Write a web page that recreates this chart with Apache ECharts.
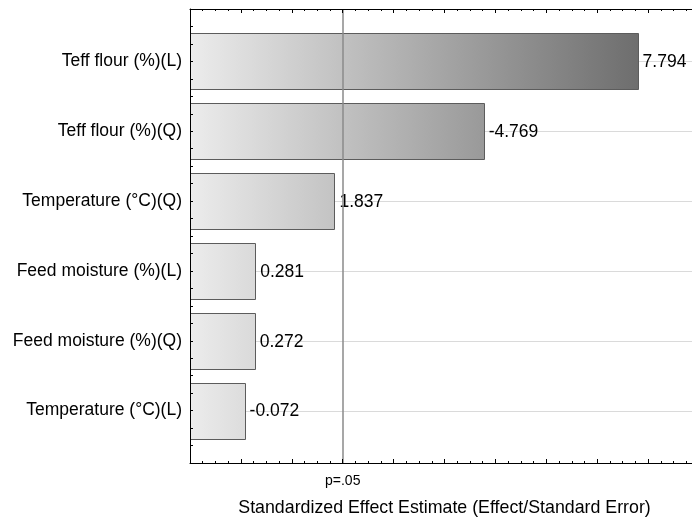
<!DOCTYPE html>
<html>
<head>
<meta charset="utf-8">
<script src="https://cdn.jsdelivr.net/npm/echarts@6/dist/echarts.min.js"></script>
<style>
  html, body { margin: 0; padding: 0; background: #fff; }
  #chart { width: 692px; height: 520px; }
</style>
</head>
<body>
<div id="chart"></div>
<script>
// Pareto chart of standardized effects
const categories = [
  'Teff flour (%)(L)',
  'Teff flour (%)(Q)',
  'Temperature (°C)(Q)',
  'Feed moisture (%)(L)',
  'Feed moisture (%)(Q)',
  'Temperature (°C)(L)'
];
const effects = [7.794, -4.769, 1.837, 0.281, 0.272, -0.072];
const pLimit = 2.0;
const pLabel = 'p=.05';
const axisTitle = 'Standardized Effect Estimate (Effect/Standard Error)';

const X_MIN = -1, X_MAX = 9;
const Y_MIN = -0.75, Y_MAX = 5.75;
const FONT = '"Liberation Sans", Arial, sans-serif';
const maxAbs = Math.max(...effects.map(Math.abs));

const chart = echarts.init(document.getElementById('chart'), null, { renderer: 'canvas' });

function renderBar(params, api) {
  const i = api.value(0);
  const v = api.value(1);
  const base = api.coord([X_MIN, i]);
  const tip = api.coord([Math.abs(v), i]);
  const h = api.size([0, 0.8])[1];
  const cs = params.coordSys;
  // one shared horizontal shading across the whole plot
  const g0 = api.coord([X_MIN, 0])[0];
  const g1 = api.coord([maxAbs, 0])[0];
  const fill = new echarts.graphic.LinearGradient(g0, 0, g1, 0, [
    { offset: 0, color: '#ececec' },
    { offset: 1, color: '#6e6e6e' }
  ], true);
  const yc = Math.round(base[1]) + 0.5;
  return {
    type: 'group',
    children: [
      {
        type: 'line',
        shape: { x1: cs.x, y1: yc, x2: cs.x + cs.width, y2: yc },
        style: { stroke: '#dadada', lineWidth: 1 },
        z2: 0
      },
      {
        type: 'rect',
        shape: {
          x: Math.round(base[0]) + 0.5,
          y: Math.round(base[1] - h / 2) + 0.5,
          width: Math.round(tip[0] - base[0]),
          height: Math.round(h)
        },
        style: { fill: fill, stroke: '#5c5c5c', lineWidth: 1 },
        z2: 1
      },
      {
        type: 'text',
        x: tip[0] + 5,
        y: base[1] + 1,
        style: {
          text: v.toFixed(3),
          fill: '#000',
          font: '17.5px ' + FONT,
          verticalAlign: 'middle',
          align: 'left'
        },
        z2: 2
      }
    ]
  };
}

const xAxisCommon = {
  type: 'value',
  min: X_MIN,
  max: X_MAX,
  interval: 1,
  z: 10,
  axisLine: { show: true, onZero: false, lineStyle: { color: '#000', width: 1 } },
  axisTick: { show: true, inside: true, length: 4, lineStyle: { color: '#000' } },
  minorTick: { show: true, splitNumber: 4, length: 2, lineStyle: { color: '#000' } },
  axisLabel: { show: false },
  splitLine: { show: false }
};

chart.setOption({
  animation: false,
  backgroundColor: '#fff',
  grid: {
    left: 190, right: -7, top: 9, bottom: 57,
    containLabel: false,
    outerBoundsMode: 'none'
  },
  xAxis: [
    Object.assign({}, xAxisCommon, {
      position: 'bottom',
      name: axisTitle,
      nameLocation: 'middle',
      nameGap: 36,
      nameTextStyle: { color: '#000', fontSize: 17.8, fontFamily: FONT }
    }),
    Object.assign({}, xAxisCommon, { position: 'top' })
  ],
  yAxis: {
    type: 'value',
    inverse: true,
    min: Y_MIN,
    max: Y_MAX,
    interval: 0.25,
    z: 10,
    axisLine: { show: true, onZero: false, lineStyle: { color: '#000', width: 1 } },
    axisTick: { show: true, inside: true, length: 3, lineStyle: { color: '#000' } },
    axisLabel: {
      show: true,
      formatter: (v) => (Math.abs(v - Math.round(v)) < 1e-6 ? (categories[Math.round(v)] || '') : ''),
      color: '#000',
      fontSize: 17.5,
      fontFamily: FONT,
      margin: 8
    },
    splitLine: { show: false }
  },
  series: [
    {
      type: 'custom',
      renderItem: renderBar,
      encode: { x: 1, y: 0 },
      data: effects.map((v, i) => [i, v]),
      clip: false,
      z: 2
    },
    {
      type: 'line',
      data: [],
      z: 5,
      markLine: {
        silent: true,
        symbol: 'none',
        animation: false,
        lineStyle: { color: '#8a8a8a', width: 1.5, type: 'solid' },
        label: {
          show: true,
          position: 'end',
          formatter: pLabel,
          color: '#000',
          fontSize: 14,
          fontFamily: FONT,
          distance: 11
        },
        data: [{ xAxis: pLimit }]
      }
    }
  ]
});
</script>
</body>
</html>
